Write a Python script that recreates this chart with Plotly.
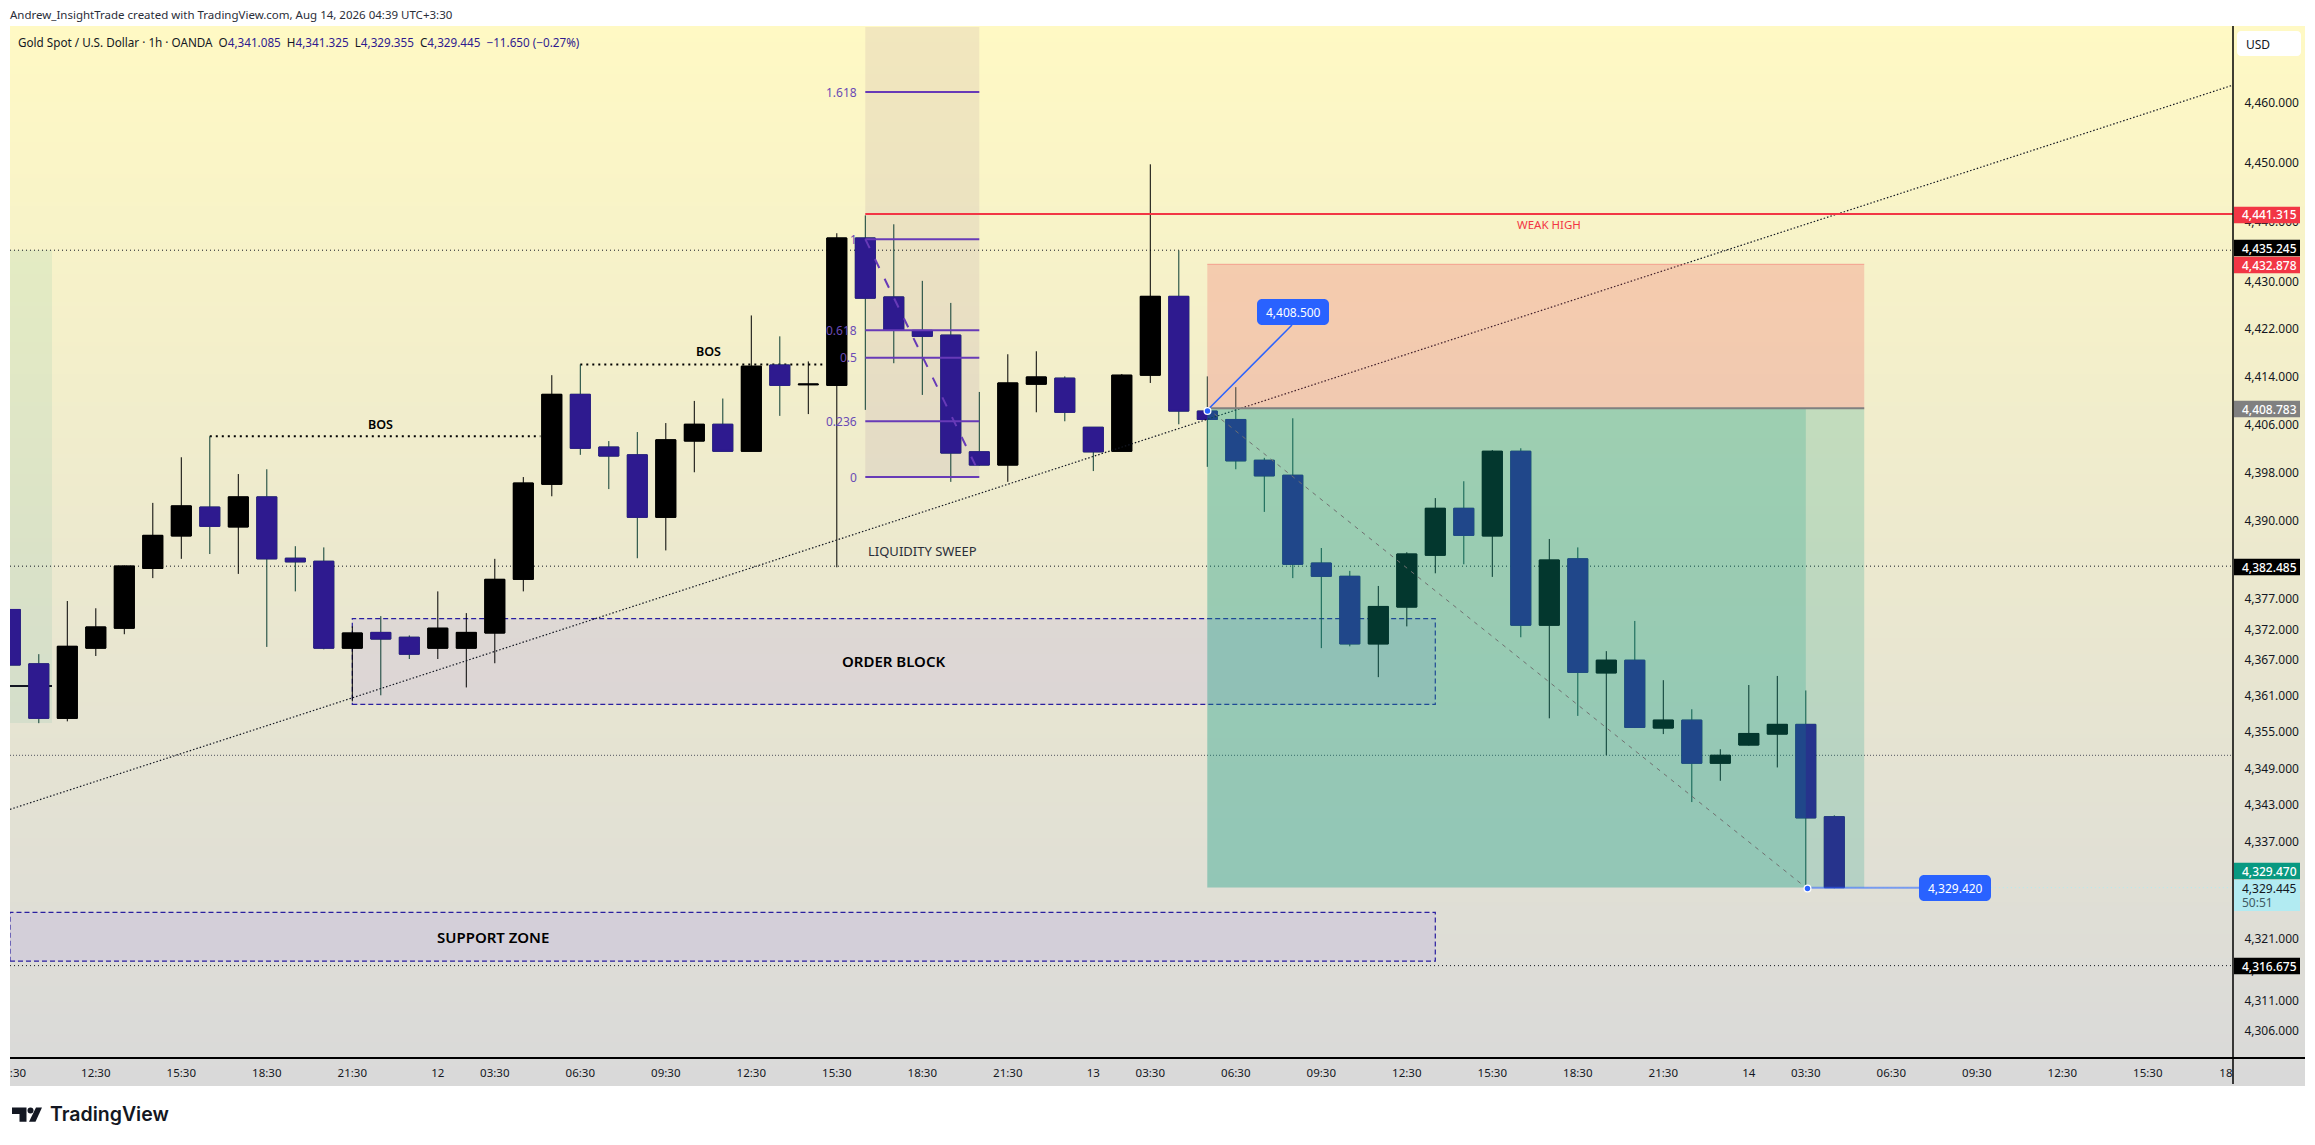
import math
import plotly.graph_objects as go

# ---- data ----
bar_index = list(range(-1, 64))
opens = [4375.3,4366.3,4357.3,4368.9,4372.2,4382.1,4387.5,4392.3,4389.0,4394.0,4383.8,4383.3,4368.9,4371.5,4370.7,4368.9,4368.9,4371.4,4380.3,4396.1,4411.1,4402.3,4401.0,4390.6,4403.3,4406.1,4401.6,4416.0,4412.7,4412.6,4437.3,4427.4,4421.8,4421.0,4401.5,4399.3,4412.8,4413.8,4405.6,4401.6,4414.3,4427.5,4408.3,4406.9,4400.1,4397.6,4383.0,4380.8,4369.6,4375.7,4384.3,4392.1,4387.5,4401.6,4372.7,4383.7,4364.8,4366.9,4355.7,4357.0,4349.9,4352.9,4354.7,4356.3,4341.085]
highs = [4375.3,4367.9,4376.7,4375.5,4382.6,4393.0,4400.6,4404.1,4397.8,4398.6,4385.8,4385.6,4372.5,4374.2,4371.0,4378.3,4374.7,4383.7,4397.3,4414.3,4416.1,4403.3,4404.8,4406.3,4410.0,4410.4,4424.3,4420.8,4416.6,4438.1,4441.1,4439.6,4430.1,4426.4,4411.5,4417.8,4418.3,4414.1,4405.6,4414.5,4449.7,4435.2,4414.1,4412.3,4400.5,4407.1,4385.5,4381.7,4379.2,4384.8,4393.8,4396.6,4401.8,4402.1,4387.0,4385.6,4368.4,4373.4,4363.6,4358.8,4352.2,4362.8,4364.3,4361.9,4341.325]
lows = [4366.1,4356.5,4356.8,4367.6,4371.2,4380.5,4383.7,4384.5,4381.2,4369.1,4378.3,4368.7,4360.1,4361.1,4367.1,4367.1,4362.4,4366.4,4378.3,4394.1,4401.0,4395.3,4383.8,4385.1,4398.1,4401.6,4401.6,4407.5,4407.8,4382.3,4408.5,4416.3,4411.0,4396.5,4399.2,4396.5,4408.1,4406.6,4398.3,4401.6,4413.0,4406.1,4399.0,4398.6,4391.5,4380.5,4368.9,4369.2,4364.1,4372.5,4381.3,4382.8,4380.7,4370.7,4357.3,4357.7,4351.2,4355.7,4354.7,4343.5,4347.0,4352.8,4349.2,4329.4,4329.355]
closes = [4366.1,4357.3,4369.2,4372.4,4382.5,4387.6,4392.5,4389.1,4394.0,4383.7,4383.2,4368.9,4371.4,4370.4,4367.9,4372.2,4371.5,4380.3,4396.3,4411.1,4402.1,4400.8,4390.6,4403.5,4406.1,4401.6,4415.8,4412.6,4412.8,4437.3,4427.2,4421.8,4420.8,4401.3,4399.3,4413.0,4414.0,4408.1,4401.5,4414.3,4427.5,4408.3,4406.9,4400.0,4397.5,4382.8,4380.8,4369.6,4375.8,4384.5,4392.1,4387.6,4401.6,4372.7,4383.5,4364.9,4366.9,4355.8,4357.0,4349.9,4351.2,4354.8,4356.3,4340.9,4329.445]

x_tick_pos = [-0.73,2,5,8,11,14,16,19,22,25,28,31,34,37,39,42,45,48,51,54,57,60,62,65,68,71,74,76.74]
x_tick_txt = [":30","12:30","15:30","18:30","21:30","12","03:30","06:30","09:30","12:30","15:30","18:30","21:30","13","03:30","06:30","09:30","12:30","15:30","18:30","21:30","14","03:30","06:30","09:30","12:30","15:30","18"]
y_ticks = [4460,4450,4440,4430,4422,4414,4406,4398,4390,4377,4372,4367,4361,4355,4349,4343,4337,4328,4321,4316,4311,4306]

fib_levels = ["1.618","1","0.618","0.5","0.236","0"]
fib_prices = [4461.9,4437.1,4421.8,4417.2,4406.6,4397.3]
dotted_levels = [4435.245,4382.485,4316.675]
thin_dotted_level = 4351.2
weak_high = 4441.315
stop_price = 4432.878
entry_price = 4408.783
target_price = 4329.47
last_price = 4329.445
note_entry = 4408.5
note_target = 4329.42
bos_levels = [4404.1,4416.1]
order_block = [4359.6,4373.8]
support_zone = [4317.4,4325.4]

tag_text = ["4,441.315","4,435.245","4,432.878","4,408.783","4,382.485","4,329.470","4,316.675"]
tag_fill = ["#f23645","#000000","#f23645","#808080","#000000","#089981","#000000"]
tag_ypx = [215,248,265,409,567,871,966]

# ---- canvas ----
W, H = 2315, 1145
L, R, T, B = 10, 2233, 27, 1058
PANE_T, PANE_R, PANE_B = 26, 2305, 1084
FONT = "Noto Sans"
INDIGO = "#2e1a8f"

def xp(px): return (px - L) / (R - L)
def yp(py): return (B - py) / (B - T)
def xi(px): return (px - 38.8) / 28.5

def rrect(x0, y0, x1, y1, r):
    X = lambda v: f"{xp(v):.6f}"
    Y = lambda v: f"{yp(v):.6f}"
    k = r * 0.45
    return (f"M{X(x0+r)},{Y(y0)} L{X(x1-r)},{Y(y0)} C{X(x1-k)},{Y(y0)} {X(x1)},{Y(y0+k)} {X(x1)},{Y(y0+r)} "
            f"L{X(x1)},{Y(y1-r)} C{X(x1)},{Y(y1-k)} {X(x1-k)},{Y(y1)} {X(x1-r)},{Y(y1)} "
            f"L{X(x0+r)},{Y(y1)} C{X(x0+k)},{Y(y1)} {X(x0)},{Y(y1-k)} {X(x0)},{Y(y1-r)} "
            f"L{X(x0)},{Y(y0+r)} C{X(x0)},{Y(y0+k)} {X(x0+k)},{Y(y0)} {X(x0+r)},{Y(y0)} Z")

shapes = []
annots = []

def pshape(x0, y0, x1, y1, fill=None, line=None, width=0, layer="above", kind="rect", dash=None):
    shapes.append(dict(type=kind, xref="paper", yref="paper", x0=xp(x0), x1=xp(x1), y0=yp(y0), y1=yp(y1),
                       fillcolor=fill, layer=layer,
                       line=dict(color=line or "rgba(0,0,0,0)", width=width, dash=dash or "solid")))

def dshape(x0, y0, x1, y1, fill=None, line=None, width=0, layer="above", kind="rect", dash=None):
    shapes.append(dict(type=kind, xref="x", yref="y", x0=x0, x1=x1, y0=y0, y1=y1,
                       fillcolor=fill, layer=layer,
                       line=dict(color=line or "rgba(0,0,0,0)", width=width, dash=dash or "solid")))

def path(d, fill, layer="above"):
    shapes.append(dict(type="path", xref="paper", yref="paper", path=d, fillcolor=fill,
                       layer=layer, line=dict(width=0)))

def ptext(px, py, s, color="#131722", size=12, anchor="left", weight=None, family=FONT):
    f = dict(family=family, size=size, color=color)
    if weight: f["weight"] = weight
    annots.append(dict(xref="paper", yref="paper", x=xp(px), y=yp(py), text=s, showarrow=False,
                       xanchor=anchor, yanchor="middle", font=f, borderpad=0, borderwidth=0))

def dtext(i, price, s, color="#131722", size=12, anchor="center", weight=None):
    f = dict(family=FONT, size=size, color=color)
    if weight: f["weight"] = weight
    annots.append(dict(xref="x", yref="y", x=i, y=math.log10(price), text=s, showarrow=False,
                       xanchor=anchor, yanchor="middle", font=f, borderpad=0, borderwidth=0))

# gradient pane
STEP = 4
for k in range(PANE_T, PANE_B, STEP):
    t = (k + STEP / 2 - PANE_T) / (PANE_B - PANE_T)
    c = (round(255 - 38 * t), round(249 - 32 * t), round(196 + 21 * t))
    pshape(L, k, PANE_R, k + STEP, fill=f"rgb{c}", layer="below")

# lower-layer drawings
x_left, x_right = xi(L), xi(R)
pshape(L, 250, 52, 723, fill="rgba(8,153,129,0.08)", layer="below")
pshape(L, 686, 52, 686, line="#131722", width=2, kind="line", layer="below")
dshape(29, fib_prices[1] + 36, 33, fib_prices[-1], fill="rgba(130,80,140,0.10)", layer="below")
dshape(11, order_block[0], 49, order_block[1], fill="rgba(100,60,255,0.085)", line="#2a1fa0", width=1.2, dash="5px,3px", layer="below")
dshape(x_left, support_zone[0], 49, support_zone[1], fill="rgba(100,60,255,0.085)", line="#2a1fa0", width=1.2, dash="5px,3px", layer="below")
for v in dotted_levels:
    dshape(x_left, v, x_right, v, line="#131722", width=1, kind="line", dash="1px,3px", layer="below")
dshape(x_left, thin_dotted_level, x_right, thin_dotted_level, line="#50535e", width=1, kind="line", dash="1px,2px", layer="below")
dshape(62.6, last_price, x_right, last_price, line="#b2ebf2", width=1, kind="line", dash="1px,3px", layer="below")
dshape(6, bos_levels[0], 17.6, bos_levels[0], line="#000000", width=2, kind="line", dash="2px,4px", layer="below")
dshape(19, bos_levels[1], 27.5, bos_levels[1], line="#000000", width=2, kind="line", dash="2px,4px", layer="below")

# trend line
dshape(x_left, 4342.3, x_right, 4463.07, line="#131722", width=1.2, kind="line", dash="1.5px,2px")

# position overlays
dshape(41, target_price, 64.05, entry_price, fill="rgba(8,153,129,0.20)")
dshape(41, target_price, 62, entry_price, fill="rgba(8,153,129,0.20)")
dshape(41, entry_price, 64.05, stop_price, fill="rgba(242,54,69,0.20)")
dshape(41, stop_price, 64.05, stop_price, line="rgba(242,54,69,0.35)", width=1, kind="line")
dshape(41, entry_price, 64.05, entry_price, line="#808080", width=2, kind="line")
dshape(41, entry_price, 62, target_price, line="#707070", width=1, kind="line", dash="4px,5px")
dshape(62, note_target, xi(1919), note_target, line="rgba(41,98,255,0.55)", width=2, kind="line")

# fib
for v in fib_prices:
    dshape(29, v, 33, v, line="#673ab7", width=2, kind="line")
dshape(29, fib_prices[1], 32.87, 4399.2, line="#673ab7", width=2, kind="line", dash="10px,12px")
for s, v in zip(fib_levels, fib_prices):
    dtext(xi(857), v, s, color="#6a4bb5", size=12, anchor="right")

# red line
dshape(29, weak_high, x_right, weak_high, line="#f23645", width=2, kind="line")

# callouts
pshape(1207.5, 410, 1292, 325, line="#2962ff", width=1.5, kind="line")
path(rrect(1257, 299, 1329, 325, 5), "#2962ff")
ptext(1293, 312, "4,408.500", color="#ffffff", anchor="center")
path(rrect(1919, 875, 1991, 901, 5), "#2962ff")
ptext(1955, 888, "4,329.420", color="#ffffff", anchor="center")
for cx, cy in ((1207.5, 411), (1807.5, 888.5)):
    pshape(cx - 4, cy - 4, cx + 4, cy + 4, fill="#ffffff", kind="circle")
    pshape(cx - 2.7, cy - 2.7, cx + 2.7, cy + 2.7, fill="#2962ff", kind="circle")

# chart words
dtext(12, 4406.1, "BOS", color="#000000", size=12.5, weight=600)
dtext(23.5, 4418.2, "BOS", color="#000000", size=12.5, weight=600)
dtext(30, 4366.7, "ORDER BLOCK", color="#000000", size=15, weight=600)
dtext(15.95, 4321.3, "SUPPORT ZONE", color="#000000", size=15, weight=600)
dtext(31, 4385, "LIQUIDITY SWEEP", color="#2a2e39", size=13)
dtext(53, 4439.6, "WEAK HIGH", color="#f23645", size=11.5)

# price scale and pane frame
pshape(L, B, PANE_R, B, line="#000000", width=2, kind="line")
pshape(R, PANE_T, R, PANE_B, line="#000000", width=1.5, kind="line")
for s, f, py in zip(tag_text, tag_fill, tag_ypx):
    pshape(R + 1, py - 8.2, 2300, py + 8.2, fill=f)
    ptext(2242, py, s, color="#ffffff", weight=500)
pshape(R + 1, 880, 2300, 911, fill="#b2ebf2")
ptext(2242, 888, "4,329.445", color="#131722")
ptext(2242, 902, "50:51", color="#3f5a63")
path(rrect(2237, 31, 2301, 56, 4), "#ffffff")
ptext(2246, 44, "USD", color="#131722")

# header
ptext(10, 15, "Andrew_InsightTrade created with TradingView.com, Aug 14, 2026 04:39 UTC+3:30", color="#2a2e39", size=11.5)
v = lambda s: f'<span style="color:{INDIGO}">{s}</span>'
ptext(18, 42, "Gold Spot / U.S. Dollar · 1h · OANDA  O" + v("4,341.085") + "  H" + v("4,341.325") +
      "  L" + v("4,329.355") + "  C" + v("4,329.445") + "  " + v("−11.650 (−0.27%)"), color="#131722", size=11.7)

# logo
path(f"M{xp(12)},{yp(1107.5)} L{xp(26.5)},{yp(1107.5)} L{xp(26.5)},{yp(1121.7)} L{xp(19.5)},{yp(1121.7)} L{xp(19.5)},{yp(1114)} L{xp(12)},{yp(1114)} Z", "#131722")
path(f"M{xp(36)},{yp(1107.5)} L{xp(42)},{yp(1107.5)} L{xp(35.5)},{yp(1121.7)} L{xp(29)},{yp(1121.7)} Z", "#131722")
pshape(27.5, 1107.5, 33.5, 1113.5, fill="#131722", kind="circle")
ptext(50, 1114, "TradingView", color="#131722", size=19.5, weight=600, family="Inter")

# ---- traces ----
DOWN_WICK = "#0a3d33"
fig = go.Figure()
fig.add_trace(go.Candlestick(
    x=bar_index, open=opens, high=highs, low=lows, close=closes,
    increasing=dict(line=dict(color="#000000", width=1), fillcolor="#000000"),
    decreasing=dict(line=dict(color=DOWN_WICK, width=1), fillcolor=INDIGO),
    whiskerwidth=0, showlegend=False, hoverinfo="skip"))
body_hi = [max(a, b) for a, b in zip(opens, closes)]
body_lo = [min(a, b) for a, b in zip(opens, closes)]
fig.add_trace(go.Candlestick(
    x=bar_index, open=opens, high=body_hi, low=body_lo, close=closes,
    increasing=dict(line=dict(color="#000000", width=1), fillcolor="#000000"),
    decreasing=dict(line=dict(color=INDIGO, width=1), fillcolor=INDIGO),
    whiskerwidth=0, showlegend=False, hoverinfo="skip"))

fig.update_layout(
    width=W, height=H, autosize=False,
    margin=dict(l=L, r=W - R, t=T, b=H - B, pad=0),
    paper_bgcolor="#ffffff", plot_bgcolor="rgba(0,0,0,0)",
    boxgap=0.3, boxgroupgap=0, boxmode="overlay",
    showlegend=False, dragmode=False, shapes=shapes, annotations=annots,
    font=dict(family=FONT, size=12, color="#131722"),
    xaxis=dict(range=[x_left, x_right], rangeslider=dict(visible=False), showgrid=False, zeroline=False,
               tickmode="array", tickvals=x_tick_pos, ticktext=x_tick_txt, ticks="outside", ticklen=4,
               tickcolor="rgba(0,0,0,0)", showline=False, tickfont=dict(family=FONT, size=11.5, color="#131722")),
    yaxis=dict(type="log", range=[math.log10(4301.6), math.log10(4472.9)], side="right", showgrid=False,
               zeroline=False, tickmode="array", tickvals=y_ticks,
               ticktext=[f"{t:,}.000" for t in y_ticks], ticks="outside", ticklen=8,
               tickcolor="rgba(0,0,0,0)", showline=False, tickfont=dict(family=FONT, size=12, color="#131722")),
)
fig.write_html("out.html", config=dict(displayModeBar=False, staticPlot=True),
               post_script="document.body.style.margin='0';document.body.style.overflow='hidden';")
